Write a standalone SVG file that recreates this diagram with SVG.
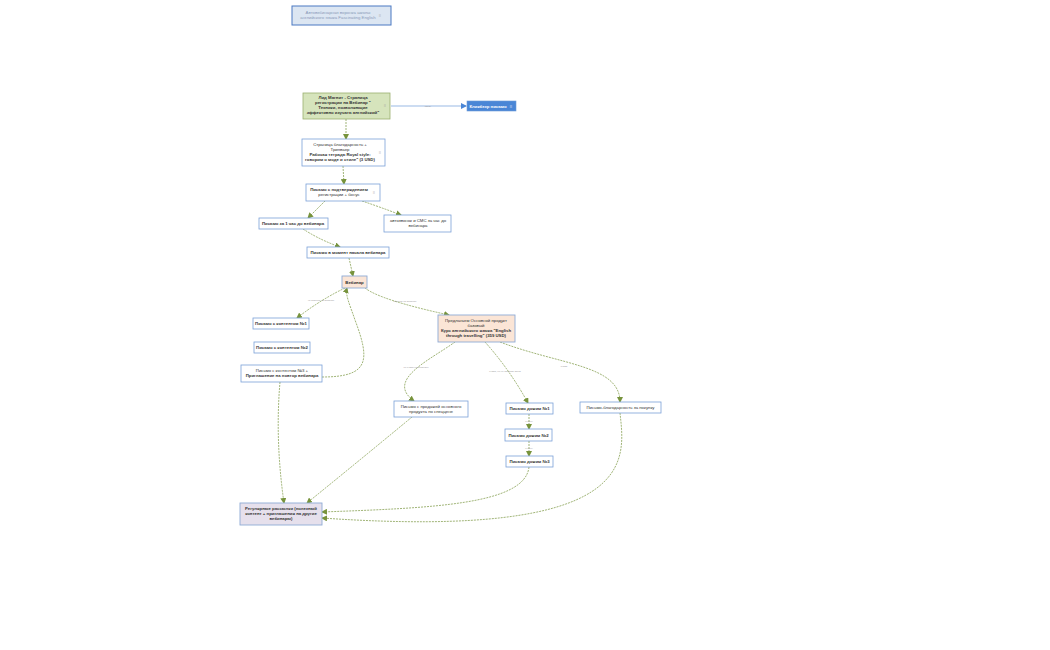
<svg xmlns="http://www.w3.org/2000/svg" width="1050" height="650" viewBox="0 0 1050 650">
<defs>
<marker id="ah" markerWidth="6" markerHeight="6" refX="5" refY="3" orient="auto" markerUnits="userSpaceOnUse"><path d="M0,0 L6,3 L0,6 z" fill="#77933c"/></marker>
<marker id="ab" markerWidth="6" markerHeight="6" refX="5" refY="3" orient="auto" markerUnits="userSpaceOnUse"><path d="M0,0 L6,3 L0,6 z" fill="#4a86d6"/></marker>
<style>
text{font-family:"Liberation Sans",Arial,sans-serif;font-size:4.3px;fill:#333;text-anchor:middle}
.b{font-weight:bold}
.n{fill:#fff;stroke:#7ba0d8;stroke-width:0.8}
.o{fill:#fbe5d6;stroke:#8eaad6;stroke-width:0.9}
.c{fill:none;stroke:#77933c;stroke-width:0.7;stroke-dasharray:2,1;marker-end:url(#ah)}
.l{font-size:2.5px;fill:#999}
.i{font-size:4px;fill:#999}
</style>
</defs>
<g id="connectors">
<path d="M391,106 L466,106" fill="none" stroke="#6d9bd8" stroke-width="0.7" marker-end="url(#ab)"/>
<text class="l" x="428" y="107">связь</text>
<path class="c" d="M346,119 L346,139"/>
<path class="c" d="M343,166 L344,184"/>
<path class="c" d="M325,201 L308,218"/>
<path class="c" d="M362,201 Q380,207 401,215"/>
<path class="c" d="M303,229 Q320,240 340,247"/>
<path class="c" d="M349,258 L353,276"/>
<path class="c" d="M345,288 Q320,300 297,318"/>
<text class="l" x="321" y="301">не пришел на вебинар</text>
<path class="c" d="M365,288 Q380,300 449,315"/>
<text class="l" x="405" y="302">пришел на вебинар</text>
<path class="c" d="M322,377 C370,377 370,360 355,320 C350,305 345,295 347,288"/>
<path class="c" d="M280,382 Q275,440 284,503"/>
<path class="c" d="M455,342 C430,360 385,380 414,401"/>
<text class="l" x="416" y="368">не купил на вебинаре</text>
<path class="c" d="M485,342 Q510,370 528,403"/>
<text class="l" x="505" y="372">купил, но не оплатил заказ</text>
<path class="c" d="M500,342 C560,365 620,365 620,402"/>
<text class="l" x="564" y="367">купил</text>
<path class="c" d="M412,417 Q360,460 307,503"/>
<path class="c" d="M529,414 L529,429"/>
<text class="l" x="529" y="422">1 день</text>
<path class="c" d="M529,441 L529,456"/>
<text class="l" x="529" y="449">1 день</text>
<path class="c" d="M529,467 C525,505 430,508 322,512"/>
<path class="c" d="M620,413 C625,460 640,540 322,518"/>
</g>
<g id="title"><rect x="292" y="6" width="99" height="19" fill="#dce6f2" stroke="#4a78c2" stroke-width="1"/><text x="338" y="14" fill="#8a9ab8" style="fill:#8a9ab8">Автовебинарная воронка школы</text><text x="338" y="19" style="fill:#8a9ab8">английского языка Fascinating English</text><text class="i" x="380" y="17">≡</text></g>
<g id="lead"><rect x="303" y="93" width="87" height="26" fill="#d6e4bc" stroke="#9bb06f" stroke-width="0.8"/><text class="b" x="343" y="99">Лид Магнит      -  Страница</text><text class="b" x="343" y="104">регистрации на Вебинар   "</text><text class="b" x="343" y="109">Техники, позволяющие</text><text class="b" x="343" y="114">эффективно изучать английский"</text><text class="i" x="385" y="107">≡</text></g>
<g id="click"><rect x="467" y="101" width="49" height="10" fill="#4a86d6" stroke="#6d9bd8" stroke-width="0.6"/><text class="b" x="488" y="107.5" style="fill:#fff">Кликбезр письмо</text><text x="511" y="107.5" style="fill:#fff">≡</text></g>
<g id="thanks"><rect class="n" x="302" y="139" width="83" height="27"/><text x="340" y="146">Страница благодарность +</text><text x="340" y="151">Трипваер</text><text class="b" x="340" y="156">Рабочая тетрадь Royal style:</text><text class="b" x="340" y="161">говорим о моде и стиле" (3 USD)</text><text class="i" x="380" y="154">≡</text></g>
<g id="confirm"><rect class="n" x="306" y="184" width="74" height="17"/><text class="b" x="339" y="191">Письмо с подтверждением</text><text x="339" y="196">регистрации + бонус</text><text class="i" x="374" y="194">≡</text></g>
<g id="hour"><rect class="n" x="259" y="218" width="69" height="11"/><text class="b" x="293" y="225">Письмо за 1 час до вебинара</text></g>
<g id="call"><rect class="n" x="384" y="215" width="67" height="17"/><text x="418" y="222">автозвонок и СМС за час до</text><text x="418" y="227">вебинара</text></g>
<g id="start"><rect class="n" x="307" y="247" width="82" height="11"/><text class="b" x="348" y="254">Письмо в момент начала вебинара</text></g>
<g id="webinar"><rect class="o" x="342" y="276" width="25" height="12"/><text class="b" x="354.5" y="283.5">Вебинар</text></g>
<g id="c1"><rect class="n" x="253" y="318" width="56" height="11"/><text class="b" x="281" y="325">Письмо с контентом №1</text></g>
<g id="c2"><rect class="n" x="254" y="342" width="56" height="11"/><text class="b" x="282" y="349">Письмо с контентом №2</text></g>
<g id="c3"><rect class="n" x="241" y="365" width="81" height="17"/><text x="282" y="372">Письмо с контентом №3 +</text><text class="b" x="282" y="377">Приглашение на повтор вебинара</text></g>
<g id="offer"><rect class="o" x="438" y="315" width="77" height="27"/><text x="476" y="322">Предлагаем Основной продукт</text><text x="476" y="327">базовый</text><text class="b" x="476" y="332">Курс английского языка "English</text><text class="b" x="476" y="337">through travelling" (359 USD)</text></g>
<g id="sale"><rect class="n" x="394" y="401" width="74" height="16"/><text x="431" y="408">Письмо с продажей основного</text><text x="431" y="413">продукта по спеццене</text></g>
<g id="d1"><rect class="n" x="506" y="403" width="47" height="11"/><text class="b" x="529.5" y="410">Письмо дожим №1</text></g>
<g id="d2"><rect class="n" x="505" y="429" width="47" height="12"/><text class="b" x="528.5" y="436.5">Письмо дожим №2</text></g>
<g id="d3"><rect class="n" x="506" y="456" width="47" height="11"/><text class="b" x="529.5" y="463">Письмо дожим №3</text></g>
<g id="ty"><rect class="n" x="580" y="402" width="81" height="11"/><text x="620.5" y="409">Письмо-благодарность за покупку</text></g>
<g id="regular"><rect x="240" y="503" width="82" height="22" fill="#e6e0ec" stroke="#8eaad6" stroke-width="0.9"/><text class="b" x="281" y="510">Регулярные рассылки (полезный</text><text class="b" x="281" y="515">контент + приглашения на другие</text><text class="b" x="281" y="520">вебинары)</text></g>
</svg>
